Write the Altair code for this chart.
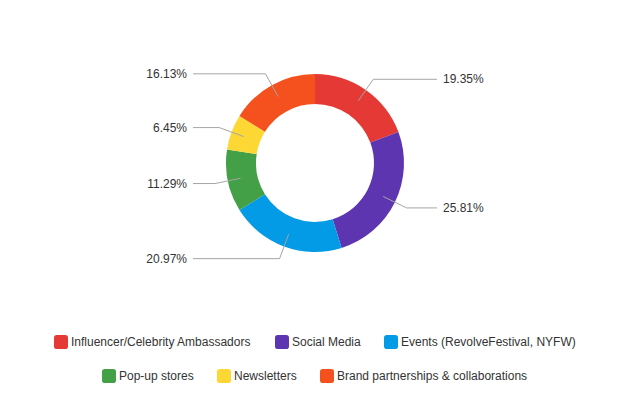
import math
import altair as alt
import pandas as pd

categories = [
    "Influencer/Celebrity Ambassadors",
    "Social Media",
    "Events (RevolveFestival, NYFW)",
    "Pop-up stores",
    "Newsletters",
    "Brand partnerships & collaborations",
]
values = [12, 16, 13, 7, 4, 10]
colors = ["#e53935", "#5e35b1", "#039be5", "#43a047", "#fdd835", "#f4511e"]

# layout constants (pixels)
W, H = 614, 310
R_OUT, R_IN = 89, 59
R_START, R_ELBOW = 76, 102
X_LINE, X_LABEL = 122, 128
FONT = "Liberation Sans"

total = sum(values)
rows, line_rows = [], []
cum = 0
for cat, v in zip(categories, values):
    start, end = cum, cum + v
    cum = end
    mid = (start + end) / 2 / total * 2 * math.pi
    sx, cy = math.sin(mid), math.cos(mid)
    right = sx >= 0
    ye = R_ELBOW * cy
    rows.append(dict(category=cat, value=v, start=start, end=end,
                     pct=f"{v / total * 100:.2f}%",
                     side="right" if right else "left",
                     lx=X_LABEL if right else -X_LABEL, ly=ye))
    line_rows += [
        dict(category=cat, o=0, x=R_START * sx, y=R_START * cy),
        dict(category=cat, o=1, x=R_ELBOW * sx, y=ye),
        dict(category=cat, o=2, x=X_LINE if right else -X_LINE, y=ye),
    ]

df = pd.DataFrame(rows)
lines_df = pd.DataFrame(line_rows)

xs = alt.Scale(domain=[-W / 2, W / 2], nice=False, zero=False)
ys = alt.Scale(domain=[-H / 2, H / 2], nice=False, zero=False)
theta_scale = alt.Scale(domain=[0, total])

base = alt.Chart(df)
legend_kw = dict(title=None, orient="bottom", direction="horizontal", labelLimit=0)

arcs_a = base.transform_filter(
    alt.FieldOneOfPredicate(field="category", oneOf=categories[:3])
).mark_arc(outerRadius=R_OUT, innerRadius=R_IN).encode(
    theta=alt.Theta("start:Q", scale=theta_scale),
    theta2="end:Q",
    color=alt.Color("category:N",
                    scale=alt.Scale(domain=categories[:3], range=colors[:3]),
                    legend=alt.Legend(**legend_kw)),
)

arcs_b = base.transform_filter(
    alt.FieldOneOfPredicate(field="category", oneOf=categories[3:])
).mark_arc(outerRadius=R_OUT, innerRadius=R_IN).encode(
    theta=alt.Theta("start:Q", scale=theta_scale),
    theta2="end:Q",
    fill=alt.Fill("category:N",
                  scale=alt.Scale(domain=categories[3:], range=colors[3:]),
                  legend=alt.Legend(**legend_kw)),
)

leaders = alt.Chart(lines_df).mark_line(color="#a6a6a6", strokeWidth=1).encode(
    x=alt.X("x:Q", scale=xs, axis=None),
    y=alt.Y("y:Q", scale=ys, axis=None),
    detail="category:N",
    order="o:O",
)

labels_r = base.transform_filter(alt.datum.side == "right").mark_text(
    align="left", baseline="middle", font=FONT, fontSize=12, color="#333333"
).encode(
    x=alt.X("lx:Q", scale=xs, axis=None),
    y=alt.Y("ly:Q", scale=ys, axis=None),
    text="pct:N",
)

labels_l = base.transform_filter(alt.datum.side == "left").mark_text(
    align="right", baseline="middle", font=FONT, fontSize=12, color="#333333"
).encode(
    x=alt.X("lx:Q", scale=xs, axis=None),
    y=alt.Y("ly:Q", scale=ys, axis=None),
    text="pct:N",
)

rounded_square = ("M-0.6,-1 L0.6,-1 Q1,-1 1,-0.6 L1,0.6 Q1,1 0.6,1 L-0.6,1 "
                  "Q-1,1 -1,0.6 L-1,-0.6 Q-1,-1 -0.6,-1 Z")

chart = alt.layer(arcs_a, arcs_b, leaders, labels_r, labels_l).resolve_scale(
    color="independent", fill="independent"
).properties(
    width=W, height=H, padding=0,
    usermeta={"embedOptions": {"config": {"legend": {"layout": {
        "bottom": {"direction": "vertical", "anchor": "middle",
                   "center": True, "margin": 20}}}}}},
).configure_view(stroke=None).configure_legend(
    symbolType=rounded_square, symbolSize=196, symbolStrokeWidth=0,
    labelFont=FONT, labelFontSize=12, labelColor="#333333", labelLimit=0,
    columnPadding=23, labelOffset=3, offset=17, padding=0,
)

chart.save("out.html", embed_options={"renderer": "svg", "actions": False})
